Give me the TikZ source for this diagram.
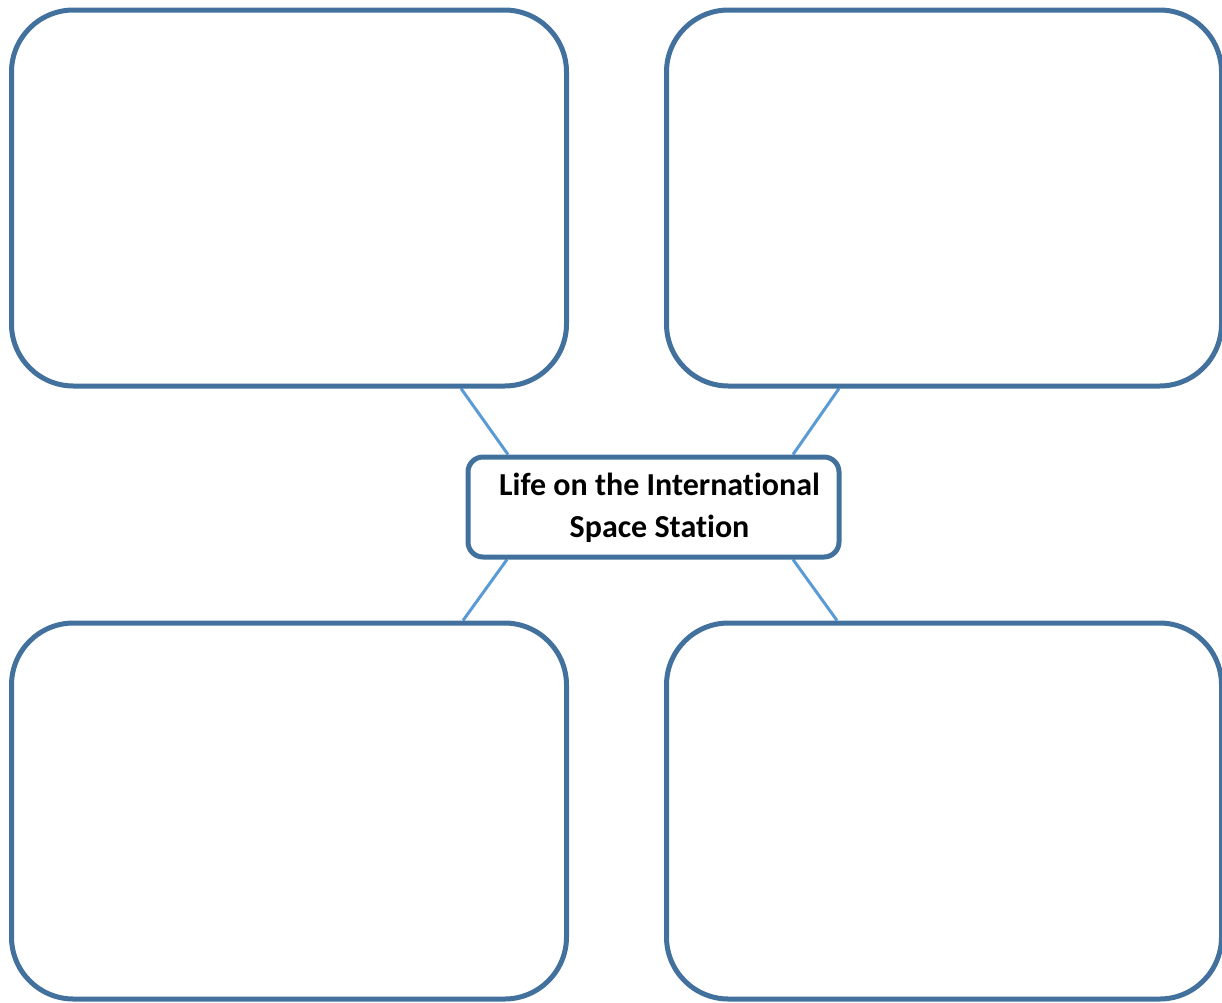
\documentclass[tikz,border=0pt]{standalone}
\usepackage{fontspec}
\setmainfont{Carlito}[Ligatures=NoCommon]
\usetikzlibrary{backgrounds}
\definecolor{boxblue}{HTML}{41719C}
\definecolor{linkblue}{HTML}{5B9BD5}
\begin{document}
\begin{tikzpicture}[x=1pt,y=-1pt,
  bigbox/.style={draw=boxblue,line width=5pt,fill=white,rounded corners=62pt,
    minimum width=555pt,minimum height=376pt,inner sep=0pt},
  centrebox/.style={draw=boxblue,line width=5pt,fill=white,rounded corners=15pt,
    minimum width=371pt,minimum height=100pt,inner sep=0pt},
  link/.style={draw=linkblue,line width=3pt}]
\useasboundingbox (0,0) rectangle (1222,1002);
\clip (0,0) rectangle (1222,1002);
\node[bigbox] (tl) at (289,198) {};
\node[bigbox] (tr) at (944,198) {};
\node[bigbox] (bl) at (289,811) {};
\node[bigbox] (br) at (944,811) {};
\node[centrebox] (c) at (653.5,507) {};
\node[font=\fontsize{32}{42}\selectfont\bfseries,align=center] (t) at (659.5,508)
  {Life on the International\\Space Station};
\begin{pgfonlayer}{background}
\draw[link] ([xshift=172pt]tl.south) -- ([xshift=-145.5pt]c.north);
\draw[link] ([xshift=-105pt]tr.south) -- ([xshift=139.5pt]c.north);
\draw[link] ([xshift=-146.5pt]c.south) -- ([xshift=174pt]bl.north);
\draw[link] ([xshift=139.5pt]c.south) -- ([xshift=-107pt]br.north);
\end{pgfonlayer}
\end{tikzpicture}
\end{document}
